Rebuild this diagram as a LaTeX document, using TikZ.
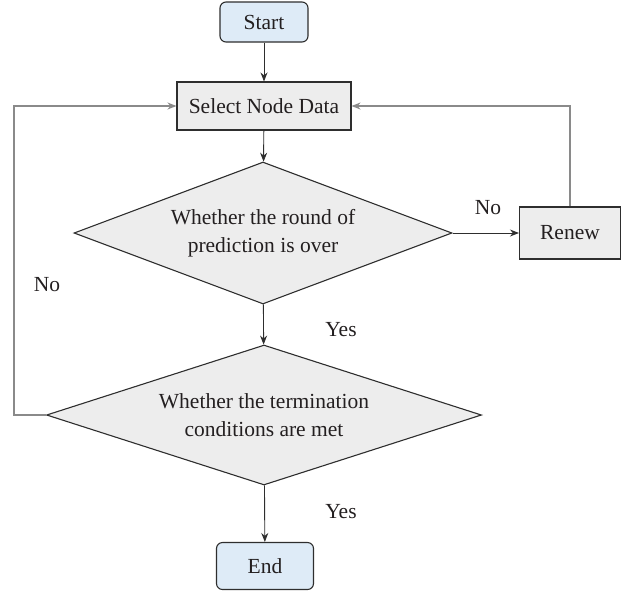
\documentclass[tikz,border=0pt]{standalone}
\usepackage{fontspec}
\setmainfont{Liberation Serif}
\usetikzlibrary{shapes.geometric,arrows.meta}

\definecolor{termfill}{HTML}{DEEBF7}
\definecolor{boxfill}{HTML}{EDEDED}
\definecolor{edge}{HTML}{2E2E2E}
\definecolor{loopgray}{HTML}{8A8A8A}
\definecolor{ink}{HTML}{231F20}

\begin{document}
\begin{tikzpicture}[
    x=1pt, y=-1pt,
    >={Stealth[length=9pt,width=7pt]},
    every node/.style={font=\fontsize{21.5}{28}\selectfont, text=ink},
    startend/.style={rectangle, draw=edge, fill=termfill, rounded corners=6pt,
                     line width=1.1pt, minimum width=88pt, minimum height=40pt},
    process/.style={rectangle, draw=edge, fill=boxfill, line width=1.1pt,
                    minimum width=174pt, minimum height=48pt},
    decision/.style={diamond, draw=edge, fill=boxfill, line width=1.1pt,
                     align=center, inner sep=0pt},
    arr/.style={->, line width=0.9pt, edge},
    back/.style={->, line width=1.1pt, loopgray},
]
  \useasboundingbox (0,0) rectangle (628,595);

  % Blocks
  \node[startend] (start) at (264,22) {Start};
  \node[process] (select) at (264,106) {Select Node Data};
  \node[decision, aspect=2.66, minimum width=378pt, minimum height=142pt] (round) at (263,233)
    {Whether the round of\\prediction is over};
  \node[process, minimum width=101pt, minimum height=52pt] (renew) at (570,233) {Renew};
  \node[decision, aspect=3.1, minimum width=435pt, minimum height=140pt] (check) at (264,415)
    {Whether the termination\\conditions are met};
  \node[startend, minimum width=97pt, minimum height=47pt] (finish) at (265,566) {End};

  % Main flow
  \draw[arr] (start) -- (select);
  \draw[arr] (select) -- (round);
  \draw[arr] (round) -- (check);
  \draw[arr] (check) -- (finish);
  \draw[arr] (round.east) -- (renew.west);

  % Loops back
  \draw[back] (renew.north) |- (select.east);
  \draw[back] (check.west) -- ++(-32,0) |- (select.west);

  % Labels
  \node (no1) at (488,208) {No};
  \node (no2) at (47,285) {No};
  \node (yes1) at (341,330) {Yes};
  \node (yes2) at (341,512) {Yes};

\end{tikzpicture}
\end{document}
